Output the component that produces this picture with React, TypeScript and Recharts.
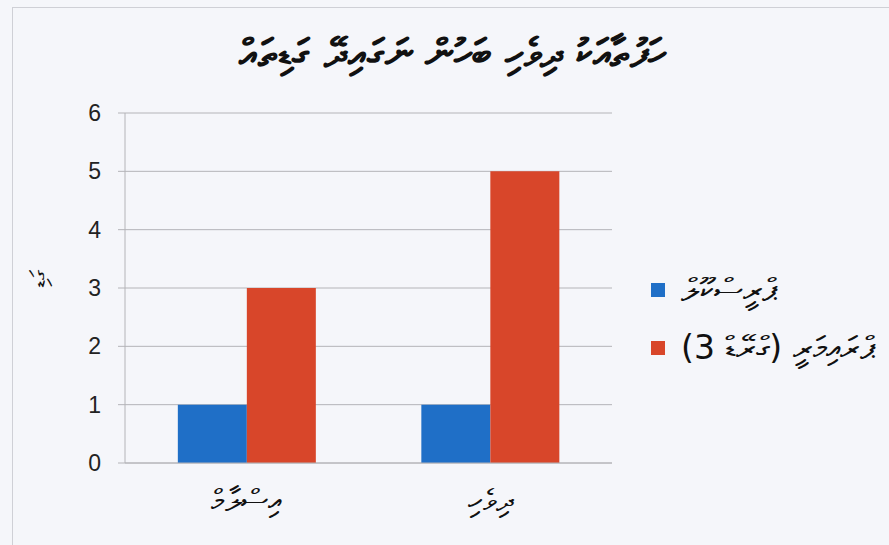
import { BarChart, Bar, XAxis, YAxis, CartesianGrid } from "recharts";

// categories: Islam, Dhivehi
const subjects = ["އިސްލާމް", "ދިވެހި"];
const preschoolHours = [1, 1];
const primaryHours = [3, 5];
const yTicks = [0, 1, 2, 3, 4, 5, 6];

const titleText = "ހަފުތާއަކު ދިވެހި ބަހުން ނަގައިދޭ ގަޑިތައް";
const yLabel = "ގަޑި";
const preschoolName = "ޕްރީސްކޫލް";
const primaryName = "ޕްރައިމަރީ (ގްރޭޑް 3)";

const BLUE = "#1f6fc7";
const RED = "#d8462a";
const GRID = "#b4b4b8";
const THAANA = "DejaVu Sans, sans-serif";

const data = subjects.map((s, i) => ({
  subject: s,
  preschool: preschoolHours[i],
  primary: primaryHours[i],
}));

const legendItems = [
  { name: preschoolName, color: BLUE },
  { name: primaryName, color: RED },
];

export default function App() {
  return (
    <div
      style={{
        position: "absolute",
        left: 0,
        top: 0,
        width: 889,
        height: 545,
        background: "#f5f6fa",
        overflow: "hidden",
      }}
    >
      <div
        style={{
          position: "absolute",
          left: 12,
          top: 7,
          width: 900,
          height: 600,
          borderLeft: "1px solid #cfd0d6",
          borderTop: "1px solid #cfd0d6",
        }}
      />
      <div
        style={{
          position: "absolute",
          left: 150,
          top: 30,
          width: 605,
          textAlign: "center",
          fontSize: 40,
          fontWeight: "bold",
          color: "#111",
          fontFamily: THAANA,
          whiteSpace: "nowrap",
        }}
      >
        {titleText}
      </div>
      <BarChart
        width={889}
        height={545}
        data={data}
        margin={{ top: 113, right: 277, bottom: 42, left: 0 }}
        barCategoryGap="21.7%"
        barGap={0}
        style={{ position: "absolute", left: 0, top: 0 }}
      >
        <CartesianGrid vertical={false} stroke={GRID} />
        <XAxis
          dataKey="subject"
          height={40}
          axisLine={{ stroke: GRID }}
          tickLine={false}
          tickSize={0}
          tickMargin={26}
          tick={{ fill: "#111", fontSize: 31, fontFamily: THAANA }}
        />
        <YAxis
          width={125}
          domain={[0, 6]}
          ticks={yTicks}
          axisLine={{ stroke: GRID }}
          tickLine={{ stroke: GRID }}
          tickSize={7}
          tickMargin={17}
          tick={{ fill: "#222", fontSize: 23, fontFamily: "Liberation Sans Narrow, Liberation Sans, sans-serif" }}
          label={{
            value: yLabel,
            angle: -90,
            position: "insideLeft",
            offset: 38,
            style: { fill: "#111", fontSize: 24, fontFamily: THAANA },
          }}
        />
        <Bar dataKey="preschool" name={preschoolName} fill={BLUE} isAnimationActive={false} />
        <Bar dataKey="primary" name={primaryName} fill={RED} isAnimationActive={false} />
      </BarChart>
      <div
        style={{
          position: "absolute",
          left: 651,
          top: 270,
          display: "flex",
          flexDirection: "column",
          gap: 18,
        }}
      >
        {legendItems.map((it, i) => (
          <div key={i} style={{ display: "flex", alignItems: "center", gap: 16, height: 40 }}>
            <span style={{ width: 14, height: 14, background: it.color, display: "inline-block" }} />
            <span style={{ fontSize: 33, color: "#111", fontFamily: THAANA, whiteSpace: "nowrap" }}>
              {it.name}
            </span>
          </div>
        ))}
      </div>
    </div>
  );
}
